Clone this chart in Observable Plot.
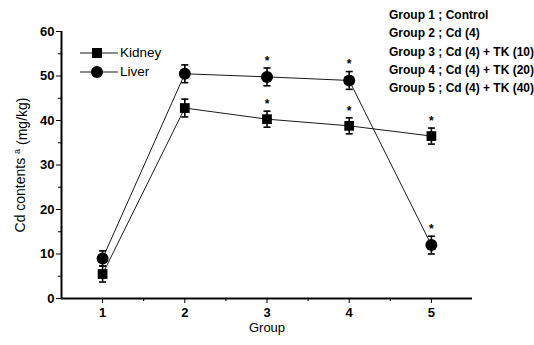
<!DOCTYPE html>
<html>
<head>
<meta charset="utf-8">
<script src="https://cdn.jsdelivr.net/npm/d3@7"></script>
<script src="https://cdn.jsdelivr.net/npm/@observablehq/plot@0.6"></script>
<style>
  html, body { margin: 0; padding: 0; background: #fff; }
  #wrap { position: relative; width: 534px; height: 345px; font-family: "Liberation Sans", Arial, sans-serif; overflow: hidden; }
  #groups { position: absolute; left: 389px; top: 6px; font-size: 12px; line-height: 18.3px; color: #000; font-weight: bold; letter-spacing: 0px; white-space: nowrap; }
  #legend { position: absolute; left: 80px; top: 43px; font-size: 13.5px; color: #000; }
  #legend div { display: flex; align-items: center; height: 19px; }
  #legend span { margin-left: 2px; }
</style>
</head>
<body>
<div id="wrap"></div>
<script>
const groups = [1, 2, 3, 4, 5];
const kidney = [5.5, 42.8, 40.3, 38.8, 36.5];
const kidneyErr = [1.8, 2.0, 1.8, 1.8, 1.8];
const liver = [9.0, 50.5, 49.8, 49.0, 12.0];
const liverErr = [1.7, 2.0, 2.0, 2.0, 2.0];
const significant = [false, false, true, true, true];
const groupLabels = [
  "Group 1 ; Control",
  "Group 2 ; Cd (4)",
  "Group 3 ; Cd (4) + TK (10)",
  "Group 4 ; Cd (4) + TK (20)",
  "Group 5 ; Cd (4) + TK (40)"
];
const seriesNames = ["Kidney", "Liver"];

const rows = [];
groups.forEach((g, i) => {
  rows.push({series: "Kidney", group: g, value: kidney[i], err: kidneyErr[i], sig: significant[i]});
  rows.push({series: "Liver", group: g, value: liver[i], err: liverErr[i], sig: significant[i]});
});
const kRows = rows.filter(d => d.series === "Kidney");
const lRows = rows.filter(d => d.series === "Liver");

const cap = {draw(ctx, size) { const r = Math.sqrt(size / Math.PI); ctx.moveTo(-r, 0); ctx.lineTo(r, 0); }};

const chart = Plot.plot({
  width: 534,
  height: 345,
  marginLeft: 61,
  marginRight: 62,
  marginTop: 31,
  marginBottom: 47,
  style: {fontFamily: "Liberation Sans, Arial, sans-serif", fontSize: "13px", color: "#000", background: "#fff"},
  x: {domain: [0.5, 5.5]},
  y: {domain: [0, 60]},
  marks: [
    Plot.axisY({ticks: d3.range(0, 61, 10), tickSize: 5, tickPadding: 2, fontWeight: "bold", fontSize: 13, tickFormat: d3.format("d"), label: null}),
    Plot.axisY({ticks: d3.range(5, 60, 10), tickSize: 3, tickFormat: () => "", label: null}),
    Plot.axisX({ticks: groups, tickSize: 5, tickPadding: 4, fontWeight: "bold", fontSize: 13, tickFormat: d3.format("d"), label: null}),
    Plot.axisX({ticks: [1.5, 2.5, 3.5, 4.5], tickSize: 3, tickFormat: () => "", label: null}),
    Plot.ruleX([0.5], {strokeWidth: 2}),
    Plot.ruleY([0], {strokeWidth: 2}),
    Plot.line(kRows, {x: "group", y: "value", stroke: "#000", strokeWidth: 0.9}),
    Plot.line(lRows, {x: "group", y: "value", stroke: "#000", strokeWidth: 0.9}),
    Plot.ruleX(rows, {x: "group", y1: d => d.value - d.err, y2: d => d.value + d.err, stroke: "#000", strokeWidth: 1.6}),
    Plot.dot(rows, {x: "group", y: d => d.value - d.err, symbol: cap, r: 3.5, stroke: "#000", strokeWidth: 1.6}),
    Plot.dot(rows, {x: "group", y: d => d.value + d.err, symbol: cap, r: 3.5, stroke: "#000", strokeWidth: 1.6}),
    Plot.dot(kRows, {x: "group", y: "value", symbol: "square", r: 5.5, fill: "#000", stroke: null}),
    Plot.dot(lRows, {x: "group", y: "value", symbol: "circle", r: 6, fill: "#000", stroke: null}),
    Plot.text(rows.filter(d => d.sig), {x: "group", y: d => d.value + d.err, text: () => "*", dy: -7, fontSize: 12, fontWeight: "bold"}),
    Plot.text(["Group"], {frameAnchor: "bottom", dy: 33, fontSize: 13}),
    Plot.text(["Cd contents"], {frameAnchor: "left", textAnchor: "middle", rotate: -90, dx: -41, fontSize: 14})
  ]
});
const wrap = document.getElementById("wrap");
wrap.appendChild(chart);

const svg = d3.select(chart);
svg.selectAll("text").filter(function() { return this.textContent === "Cd contents"; }).each(function() {
  const t = d3.select(this);
  t.attr("text-anchor", "middle");
  t.text(null);
  t.append("tspan").text("Cd contents ");
  t.append("tspan").attr("dy", "-0.5em").attr("font-size", 9).text("a");
  t.append("tspan").attr("dy", "0.5em").text(" (mg/kg)");
});

const g = document.createElement("div");
g.id = "groups";
g.innerHTML = groupLabels.map(s => `<div>${s}</div>`).join("");
wrap.appendChild(g);

const leg = document.createElement("div");
leg.id = "legend";
leg.innerHTML = seriesNames.map(name => {
  const sym = name === "Kidney"
    ? '<rect x="12" y="4" width="10" height="10" fill="#000"/>'
    : '<circle cx="17" cy="9" r="6" fill="#000"/>';
  return `<div><svg width="38" height="18"><line x1="0" y1="9" x2="38" y2="9" stroke="#000" stroke-width="0.9"/>${sym}</svg><span>${name}</span></div>`;
}).join("");
wrap.appendChild(leg);
</script>
</body>
</html>
